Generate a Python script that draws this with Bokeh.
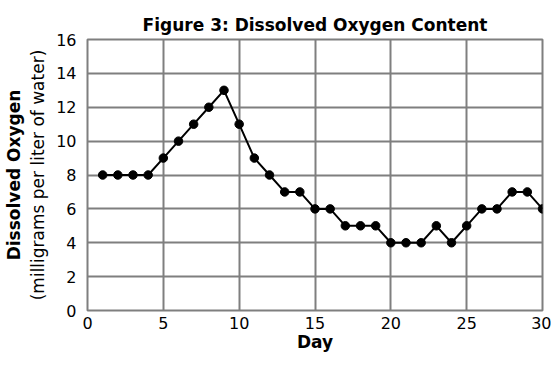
from bokeh.plotting import figure
from bokeh.models import LinearAxis, FixedTicker, Range1d
from bokeh.embed import file_html
from bokeh.resources import INLINE

days = list(range(1, 31))
oxygen = [8, 8, 8, 8, 9, 10, 11, 12, 13, 11, 9, 8, 7, 7, 6, 6, 5, 5, 5, 4,
          4, 4, 5, 4, 5, 6, 6, 7, 7, 6]
x_ticks = [0, 5, 10, 15, 20, 25, 30]
y_ticks = [0, 2, 4, 6, 8, 10, 12, 14, 16]

FONT = "DejaVu Sans"
GRID = "#7f7f7f"

p = figure(width=551, height=354, x_range=Range1d(0, 30), y_range=Range1d(0, 16),
           output_backend="svg", toolbar_location=None,
           title="Figure 3: Dissolved Oxygen Content",
           min_border_left=80, min_border_right=9, min_border_top=39,
           min_border_bottom=36)

p.title.text_font = FONT
p.title.text_font_size = "17px"
p.title.text_font_style = "bold"
p.title.align = "center"
p.title.text_color = "#000000"

p.outline_line_color = GRID
p.outline_line_width = 2
p.outline_line_alpha = 1.0

p.xgrid.ticker = FixedTicker(ticks=x_ticks)
p.ygrid.ticker = FixedTicker(ticks=y_ticks)
for g in (p.xgrid, p.ygrid):
    g.grid_line_color = GRID
    g.grid_line_width = 2
    g.grid_line_alpha = 1.0

for ax in (p.xaxis, p.yaxis):
    ax.axis_line_color = None
    ax.major_tick_line_color = None
    ax.minor_tick_line_color = None
    ax.major_label_text_font = FONT
    ax.major_label_text_font_size = "16px"
    ax.major_label_text_color = "#000000"
    ax.axis_label_text_font = FONT
    ax.axis_label_text_font_size = "17px"
    ax.axis_label_text_color = "#000000"

p.xaxis.ticker = FixedTicker(ticks=x_ticks)
p.yaxis.ticker = FixedTicker(ticks=y_ticks)
p.xaxis.major_label_standoff = 0
p.yaxis.major_label_standoff = 5
p.xaxis.axis_label = "Day"
p.xaxis.axis_label_text_font_style = "bold"
p.xaxis.axis_label_standoff = 0
p.yaxis.axis_label = "(milligrams per liter of water)"
p.yaxis.axis_label_text_font_style = "normal"
p.yaxis.axis_label_standoff = 5

outer = LinearAxis(ticker=FixedTicker(ticks=[]), axis_label="Dissolved Oxygen",
                   axis_line_color=None, major_tick_line_color=None,
                   minor_tick_line_color=None,
                   axis_label_text_font=FONT, axis_label_text_font_size="17px",
                   axis_label_text_font_style="bold", axis_label_text_color="#000000",
                   axis_label_standoff=2)
p.add_layout(outer, "left")

p.line(days, oxygen, line_color="black", line_width=2)
p.scatter(days, oxygen, size=8.5, fill_color="black", line_color="black")

open("out.html", "w").write(file_html(p, INLINE))
